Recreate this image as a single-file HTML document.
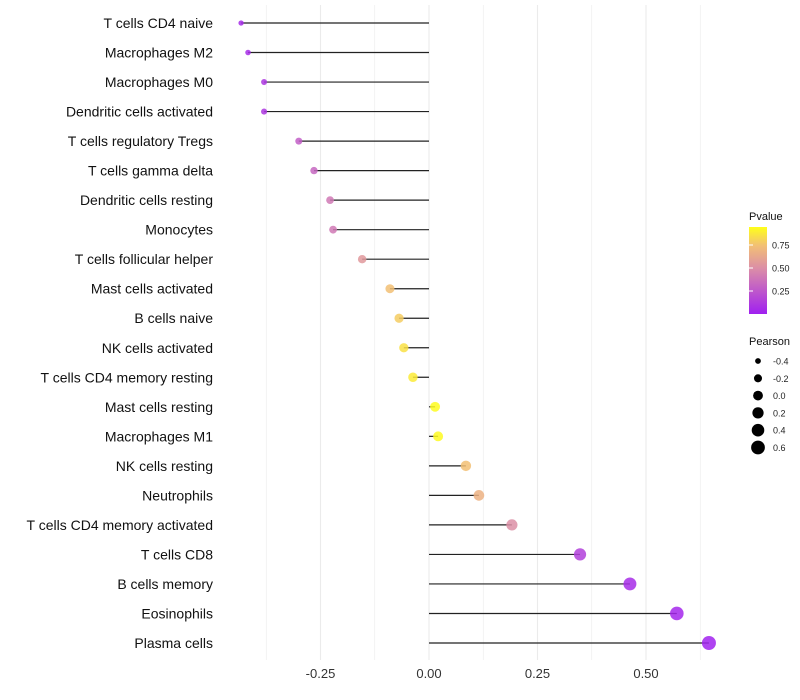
<!DOCTYPE html>
<html><head><meta charset="utf-8"><style>
body{margin:0;background:#fff;font-family:"Liberation Sans",sans-serif;}
svg{display:block}
</style></head><body>
<svg id="chart" width="800" height="700" viewBox="0 0 800 700">
<defs><linearGradient id="pg" x1="0" y1="1" x2="0" y2="0">
<stop offset="0" stop-color="#a020f0"/><stop offset="0.53" stop-color="#dc8fa6"/><stop offset="0.79" stop-color="#f2c074"/><stop offset="1" stop-color="#ffff1a"/></linearGradient></defs>
<g id="grid"></g><g id="marks"></g><g id="labels"></g><g id="legend"></g>
</svg>
<script>
const categories=["T cells CD4 naive","Macrophages M2","Macrophages M0","Dendritic cells activated","T cells regulatory  Tregs","T cells gamma delta","Dendritic cells resting","Monocytes","T cells follicular helper","Mast cells activated","B cells naive","NK cells activated","T cells CD4 memory resting","Mast cells resting","Macrophages M1","NK cells resting","Neutrophils","T cells CD4 memory activated","T cells CD8","B cells memory","Eosinophils","Plasma cells"];
const pearson=[-0.433,-0.417,-0.380,-0.380,-0.300,-0.265,-0.228,-0.221,-0.154,-0.090,-0.069,-0.058,-0.037,0.014,0.021,0.085,0.115,0.191,0.348,0.463,0.571,0.645];
const pvalue=[0.05,0.06,0.1,0.1,0.28,0.32,0.4,0.4,0.55,0.75,0.8,0.88,0.92,0.99,0.98,0.75,0.68,0.5,0.15,0.06,0.03,0.01];
const xTicks=[-0.25,0,0.25,0.5];
const xTickLabels=["-0.25","0.00","0.25","0.50"];
const legendP=[0.75,0.5,0.25];
const legendPearson=[-0.4,-0.2,0.0,0.2,0.4,0.6];

const NS="http://www.w3.org/2000/svg";
const x=v=>429+v*434;
const y=i=>23+i*(620/(categories.length-1));
const r=v=>Math.sqrt(Math.max(2,12.25+38.9*(v+0.3)));
function lerp(a,b,t){return a.map((c,k)=>Math.round(c+(b[k]-c)*t));}
function col(p){const s=[[0,[160,32,240]],[0.5,[220,143,166]],[0.75,[242,192,116]],[1,[255,255,26]]];
for(let k=1;k<s.length;k++){if(p<=s[k][0]){const t=(p-s[k-1][0])/(s[k][0]-s[k-1][0]);return "rgb("+lerp(s[k-1][1],s[k][1],t).join(",")+")";}}return "rgb(255,255,26)";}
function mk(t,a,parent){const e=document.createElementNS(NS,t);for(const k in a)e.setAttribute(k,a[k]);document.getElementById(parent).appendChild(e);return e;}

const gl=[-0.375,-0.25,-0.125,0,0.125,0.25,0.375,0.5,0.625];
gl.forEach(v=>{const e=mk("line",{x1:x(v),x2:x(v),y1:5,y2:660,stroke:"#ebebeb","stroke-width":(v*8)%2===0?1.1:0.6},"grid");

});
xTicks.forEach((v,i)=>{const t=mk("text",{x:x(v),y:678,"text-anchor":"middle","font-size":13,fill:"#333"},"labels");t.textContent=xTickLabels[i];

});
categories.forEach((c,i)=>{
const l=mk("line",{x1:x(0),x2:x(pearson[i]),y1:y(i),y2:y(i),stroke:"#222","stroke-width":1.2},"marks");


const d=mk("circle",{cx:x(pearson[i]),cy:y(i),r:r(pearson[i]),fill:col(pvalue[i]),"fill-opacity":0.85},"marks");


const t=mk("text",{x:213,y:y(i)+5,"text-anchor":"end","font-size":14,fill:"#111"},"labels");t.textContent=c;

});
// legend
let e=mk("text",{x:749,y:220,"font-size":11,fill:"#111"},"legend");e.textContent="Pvalue";


e=mk("rect",{x:749,y:227,width:18,height:87,fill:"url(#pg)"},"legend");


legendP.forEach(p=>{const yy=314-p*92;
const tk=mk("line",{x1:749,x2:753,y1:yy,y2:yy,stroke:"#fff"},"legend");


const t=mk("text",{x:772,y:yy+3.5,"font-size":9,fill:"#222"},"legend");t.textContent=p.toFixed(2);

});
e=mk("text",{x:749,y:345,"font-size":11,fill:"#111"},"legend");e.textContent="Pearson";


legendPearson.forEach((v,i)=>{const yy=361+i*17.3;
const c=mk("circle",{cx:758,cy:yy,r:r(v),fill:"#000"},"legend");


const t=mk("text",{x:773,y:yy+3.5,"font-size":9,fill:"#222"},"legend");t.textContent=v.toFixed(1);

});
</script>
</body></html>
